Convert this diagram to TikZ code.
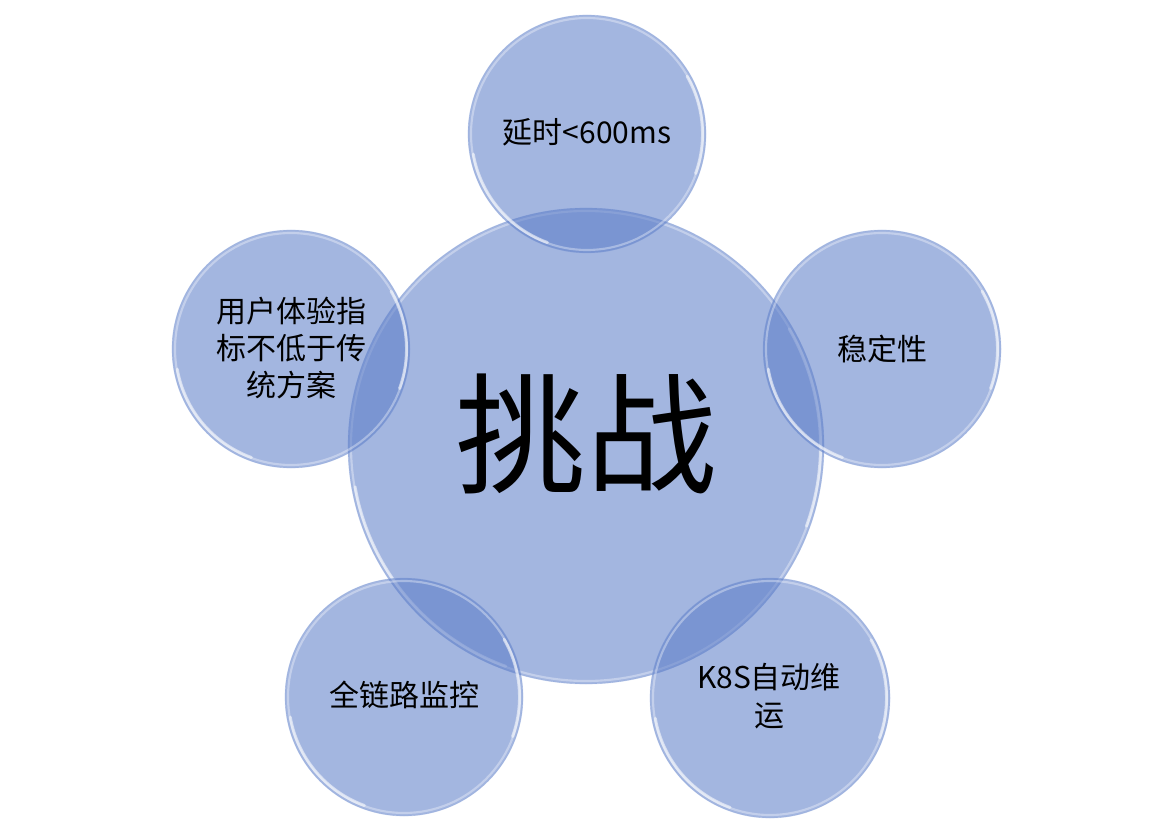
\documentclass[tikz,border=0pt]{standalone}
\usepackage{fontspec}
\setmainfont{Noto Sans CJK SC}
\usetikzlibrary{calc}
\definecolor{bubblue}{RGB}{88,122,199}
\definecolor{edgeblue}{RGB}{130,158,214}
\tikzset{
  x=0.75pt, y=-0.75pt,
  bubble/.style={circle, fill=bubblue, fill opacity=0.55, draw=edgeblue, draw opacity=0.35, line width=0.5pt, inner sep=0pt, outer sep=0pt},
  rim/.style={white, opacity=0.35, line width=1.6pt},
  shine/.style={white, opacity=0.55, line width=2.2pt, line cap=round},
  label/.style={align=center, text=black, font=\fontsize{22.5}{28}\selectfont},
}
\newcommand\bub[4]{%
  \node[bubble, minimum size=#4*1.5pt] (#1) at (#2,#3) {};
  \draw[rim] (#1.center) circle[radius=#4-3];
  \draw[shine] ($(#1.center)+(110:#4-3.5)$) arc[start angle=110, end angle=170, radius=#4-3.5];
  \draw[shine] ($(#1.center)+(-30:#4-3.5)$) arc[start angle=-30, end angle=20, radius=#4-3.5];
}
\begin{document}
\begin{tikzpicture}
\useasboundingbox (0,0) rectangle (1172,831);
\bub{c}{586}{446}{238}
\bub{t}{587}{134}{119}
\bub{r}{882}{349}{119}
\bub{l}{291}{349}{119}
\bub{bl}{404}{697}{119}
\bub{br}{770}{698}{120}
\node[label, font=\fontsize{98}{110}\selectfont] (tc) at (586,434) {挑战};
\node[label] (tt) at (587,132) {延时<600ms};
\node[label] (tr) at (882,349) {稳定性};
\node[label] (tl) at (291,348) {用户体验指\\标不低于传\\统方案};
\node[label] (tbl) at (404,695) {全链路监控};
\node[label] (tbr) at (769,696) {K8S自动维\\运};
\end{tikzpicture}
\end{document}
